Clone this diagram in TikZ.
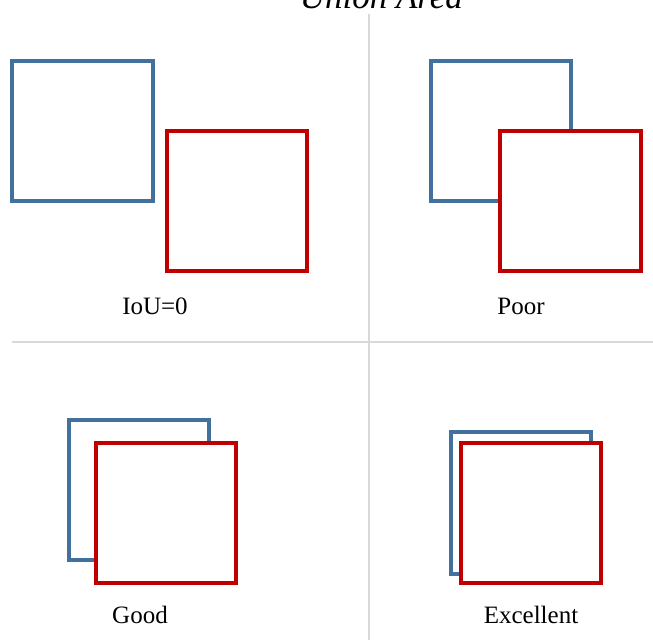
\documentclass[tikz,border=0pt]{standalone}
\usepackage{fontspec}
\setmainfont{Liberation Serif}
\definecolor{boxblue}{HTML}{41719C}
\definecolor{boxred}{HTML}{C00000}
\definecolor{divgray}{HTML}{D9D9D9}
\begin{document}
\begin{tikzpicture}[x=1pt,y=-1pt,
  bluebox/.style={draw=boxblue,line width=4pt,fill=white},
  redbox/.style={draw=boxred,line width=4pt,fill=white},
  divider/.style={draw=divgray,line width=1.5pt},
  caption/.style={font=\fontsize{25}{30}\selectfont,anchor=base,inner sep=0pt},
  toptext/.style={font=\fontsize{35}{42}\selectfont\itshape,anchor=base east,inner sep=0pt}]
\useasboundingbox (0,0) rectangle (653,640);
\clip (0,0) rectangle (653,640);
% title (cut off at top, as in the reference)
\node[toptext] (title) at (463,8) {Union Area};
% dividers
\coordinate (vtop) at (369,14);
\coordinate (vbot) at (369,640);
\coordinate (hleft) at (12,342);
\coordinate (hright) at (653,342);
\draw[divider] (vtop) -- (vbot);
\draw[divider] (hleft) -- (hright);
% IoU=0
\draw[bluebox] (12,61) rectangle (153,201);
\draw[redbox] (167,131) rectangle (307,271);
\node[caption] (l1) at (155,314) {IoU=0};
% Poor
\draw[bluebox] (431,61) rectangle (571,201);
\draw[redbox] (500,131) rectangle (641,271);
\node[caption] (l2) at (521,314) {Poor};
% Good
\draw[bluebox] (69,420) rectangle (209,560);
\draw[redbox] (96,443) rectangle (236,583);
\node[caption] (l3) at (140,623) {Good};
% Excellent
\draw[bluebox] (451,432) rectangle (591,574);
\draw[redbox] (461,443) rectangle (601,583);
\node[caption] (l4) at (531,623) {Excellent};
\end{tikzpicture}
\end{document}
